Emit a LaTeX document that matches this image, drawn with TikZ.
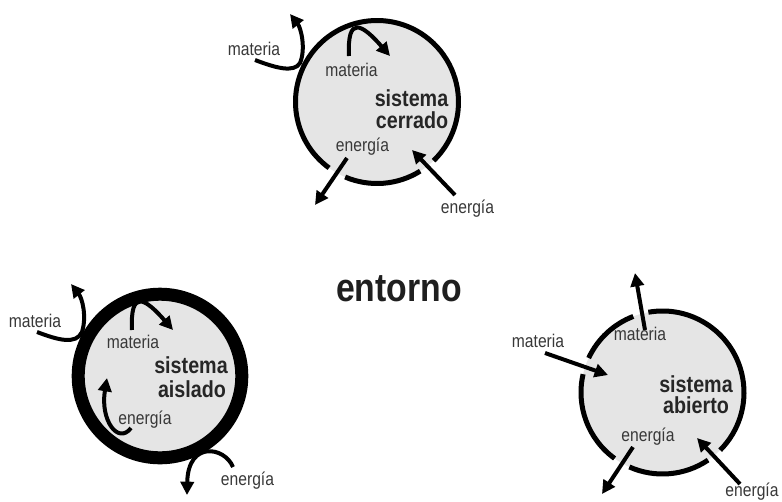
\documentclass[tikz,border=0pt]{standalone}
\usepackage{fontspec}
\newfontfamily\labfont{Liberation Sans}[FakeStretch=0.85]
\usetikzlibrary{arrows.meta}
\begin{document}
\begin{tikzpicture}[x=0.75pt,y=-0.75pt,
  lbl/.style={font=\labfont\fontsize{13.8}{16}\selectfont, text=black!78, inner sep=0pt, anchor=base},
  ttl/.style={font=\labfont\bfseries\fontsize{17.4}{20}\selectfont, text=black!85, inner sep=0pt, anchor=base},
  big/.style={font=\labfont\bfseries\fontsize{29.8}{34}\selectfont, text=black!88, inner sep=0pt, anchor=base},
  arr/.style={line width=3pt, -{Triangle[length=10pt,width=10pt]}},
  ring/.style={line width=3.75pt},
  thickring/.style={line width=9.75pt},
  disk/.style={fill=black!10}]
\useasboundingbox (0,0) rectangle (782,501);

% ---------- sistema cerrado ----------
\coordinate (C1) at (377,102);
\fill[disk] (C1) circle (81.5);
\draw[ring] ([shift={(58:81.5)}]C1) arc[start angle=58, end angle=113, radius=81.5];
\draw[ring] ([shift={(126:81.5)}]C1) arc[start angle=126, end angle=406, radius=81.5];

\coordinate (c1mo) at (255,60);
\coordinate (c1mj) at (300,63);
\coordinate (c1mt) at (290,14);
\draw[arr] (c1mo) .. controls (276,68) and (294,73) .. (c1mj) .. controls (306,49) and (301,28) .. (c1mt);
\coordinate (c1is) at (349,56);
\coordinate (c1it) at (390,56);
\draw[arr] (c1is) .. controls (347,15) and (362,24) .. (c1it);
\coordinate (c1es) at (347,158);
\coordinate (c1et) at (315,205);
\draw[arr] (c1es) -- (c1et);
\coordinate (c1fs) at (455,195);
\coordinate (c1ft) at (412,150);
\draw[arr] (c1fs) -- (c1ft);

\node[lbl] (c1l1) at (254,55) {materia};
\node[lbl] (c1l2) at (351.5,76) {materia};
\node[ttl] (c1t1) at (411.5,106.7) {sistema};
\node[ttl] (c1t2) at (412,128.3) {cerrado};
\node[lbl] (c1l3) at (362.5,151.7) {energía};
\node[lbl] (c1l4) at (467.5,213.3) {energía};

% ---------- entorno ----------
\node[big] (ent) at (399,301.7) {entorno};

% ---------- sistema aislado ----------
\coordinate (C2) at (160,376);
\fill[disk] (C2) circle (81.8);
\draw[thickring] (C2) circle (81.8);

\coordinate (c2mo) at (37,332);
\coordinate (c2mj) at (82,332);
\coordinate (c2mt) at (71,284);
\draw[arr] (c2mo) .. controls (58,340) and (76,345) .. (c2mj) .. controls (87,316) and (82,298) .. (c2mt);
\coordinate (c2is) at (132,330);
\coordinate (c2it) at (173,330);
\draw[arr] (c2is) .. controls (130,289) and (145,298) .. (c2it);
\coordinate (c2es) at (131,428);
\coordinate (c2et) at (107,378);
\draw[arr] (c2es) .. controls (118,445) and (100,420) .. (c2et);
\coordinate (c2fs) at (233,467);
\coordinate (c2ft) at (187,495);
\draw[arr] (c2fs) .. controls (225,447) and (188,440) .. (c2ft);

\node[lbl] (c2l1) at (35,327) {materia};
\node[lbl] (c2l2) at (133,348) {materia};
\node[ttl] (c2t1) at (191,373.5) {sistema};
\node[ttl] (c2t2) at (192,397.5) {aislado};
\node[lbl] (c2l3) at (145,424) {energía};
\node[lbl] (c2l4) at (247.5,485) {energía};

% ---------- sistema abierto ----------
\coordinate (C3) at (662.5,392.5);
\fill[disk] (C3) circle (81.5);
\draw[ring] ([shift={(-100:81.5)}]C3) arc[start angle=-100, end angle=45, radius=81.5];
\draw[ring] ([shift={(56:81.5)}]C3) arc[start angle=56, end angle=114, radius=81.5];
\draw[ring] ([shift={(126:81.5)}]C3) arc[start angle=126, end angle=193, radius=81.5];
\draw[ring] ([shift={(-155:81.5)}]C3) arc[start angle=-155, end angle=-111, radius=81.5];

\coordinate (c3ms) at (645,330);
\coordinate (c3mt) at (635,273);
\draw[arr] (c3ms) -- (c3mt);
\coordinate (c3ns) at (545,353);
\coordinate (c3nt) at (608,375);
\draw[arr] (c3ns) -- (c3nt);
\coordinate (c3es) at (633,447);
\coordinate (c3et) at (602,494);
\draw[arr] (c3es) -- (c3et);
\coordinate (c3fs) at (740,484);
\coordinate (c3ft) at (697,438);
\draw[arr] (c3fs) -- (c3ft);

\node[lbl] (c3l1) at (538,347) {materia};
\node[lbl] (c3l2) at (640,340) {materia};
\node[ttl] (c3t1) at (696,392) {sistema};
\node[ttl] (c3t2) at (696,413.5) {abierto};
\node[lbl] (c3l3) at (648,441) {energía};
\node[lbl] (c3l4) at (752,496.5) {energía};
\end{tikzpicture}
\end{document}
